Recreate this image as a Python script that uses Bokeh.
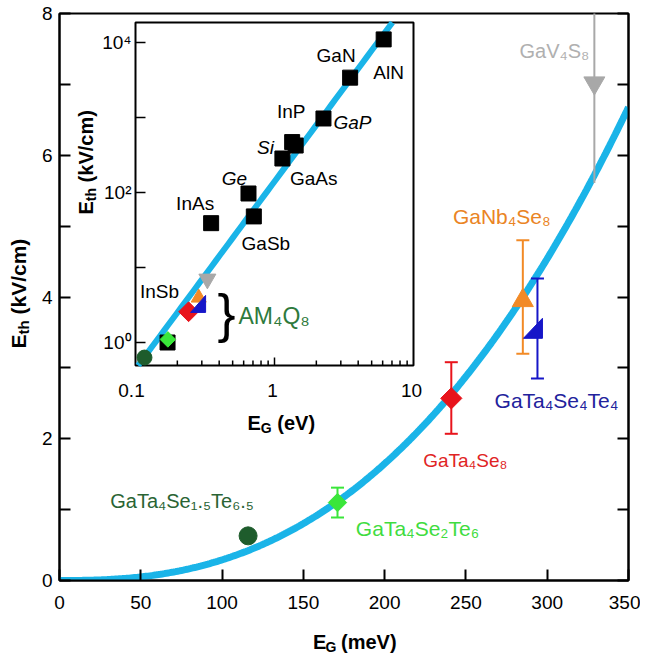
import math
import numpy as np
from bokeh.plotting import figure
from bokeh.layouts import row, column
from bokeh.models import Range1d, LogScale, LinearAxis, Label, FixedTicker, ColumnDataSource
from bokeh.core.properties import value
from bokeh.embed import file_html
from bokeh.resources import INLINE

FONT = "Liberation Sans"

# ---------------- data ----------------
# AM4Q8 compounds (main panel: E_G in meV, E_th in kV/cm)
am_names = ["GaTa₄Se₁.₅Te₆.₅", "GaTa₄Se₂Te₆", "GaTa₄Se₈", "GaNb₄Se₈", "GaTa₄Se₄Te₄", "GaV₄S₈"]
am_gap_meV = [116, 171, 241, 285, 294, 329]
am_eth = [0.63, 1.10, 2.57, 3.95, 3.53, 7.02]
am_eth_low = [float("nan"), 0.89, 2.07, 3.20, 2.85, 5.61]
am_eth_high = [float("nan"), 1.31, 3.08, 4.80, 4.26, 8.60]
am_colors = ["#1e5c2c", "#3ae63a", "#e8141c", "#f28a26", "#1616c8", "#a8a8a8"]
am_text_colors = ["#2a6434", "#3fdc3f", "#e02424", "#ea8424", "#22229c", "#b0b0b0"]

# classic semiconductors (inset: E_G in eV, E_th in kV/cm)
sc_names = ["InSb", "InAs", "Ge", "GaSb", "Si", "InP", "GaAs", "GaP", "GaN", "AlN"]
sc_gap_eV = [0.17, 0.35, 0.65, 0.71, 1.14, 1.34, 1.42, 2.25, 3.5, 6.1]
sc_eth = [1.0, 39, 97, 48, 284, 470, 423, 970, 3400, 11000]
sc_italic = [False, False, True, False, True, False, False, True, False, False]

# power-law fits  E_th = A * E_G^2.5
fit_exp = 2.5
fit_A_main = 2.6 / 240 ** 2.5   # kV/cm per meV^2.5
fit_A_inset = 140.0             # kV/cm per eV^2.5

main_x_ticks = [0, 50, 100, 150, 200, 250, 300, 350]
main_y_ticks = [0, 2, 4, 6, 8]
main_y_minor = [1, 3, 5, 7]
inset_y_ticks = [1, 10, 100, 1000, 10000]

# ---------------- layout (picture pixels) ----------------
YW = 34                      # width of the strip holding the main y label
FL, FT, FW, FH = 59, 13, 569, 567   # main frame in picture pixels
BL = FL - YW
BT = FT
BR = 12
BB = 42
MW = BL + FW + BR
MH = BT + FH + BB
XH = 34
X0, X1, Y0, Y1 = 0, 350, 0, 8


def mx(px):
    return X0 + (px - FL) * (X1 - X0) / FW


def my(py):
    return Y0 + (FT + FH - py) * (Y1 - Y0) / FH


# inset geometry
IL, IR, IT, IB = 135, 413, 22, 365
IX_DEC = (IR - IL) / 2.0
IY_DEC = 75.0
IY0_PX = 342


def ix(px):
    return 10 ** (-1 + (px - IL) / IX_DEC)


def iy(py):
    return 10 ** ((IY0_PX - py) / IY_DEC)


p = figure(width=MW, height=MH, x_range=Range1d(X0, X1), y_range=Range1d(Y0, Y1),
           output_backend="svg", toolbar_location=None,
           min_border_left=BL, min_border_right=BR, min_border_top=BT, min_border_bottom=BB)
p.grid.visible = False
p.outline_line_color = "black"
p.outline_line_width = 2
p.background_fill_color = "white"
p.border_fill_color = "white"

p.extra_x_ranges = {"ix": Range1d(ix(FL), ix(FL + FW))}
p.extra_x_scales = {"ix": LogScale()}
p.extra_y_ranges = {"iy": Range1d(iy(FT + FH), iy(FT))}
p.extra_y_scales = {"iy": LogScale()}

# axes
for ax in p.xaxis:
    ax.ticker = FixedTicker(ticks=main_x_ticks)
    ax.minor_tick_line_color = None
    ax.major_label_standoff = 15
for ax in p.yaxis:
    ax.ticker = FixedTicker(ticks=main_y_ticks, minor_ticks=main_y_minor)
    ax.minor_tick_in = 11
    ax.minor_tick_out = 0
    ax.minor_tick_line_width = 2
    ax.major_label_standoff = 7
for ax in p.axis:
    ax.major_tick_in = 11
    ax.major_tick_out = 0
    ax.axis_line_width = 2
    ax.major_tick_line_width = 2
    ax.major_label_text_font = FONT
    ax.major_label_text_font_size = "19px"
    ax.major_label_text_color = "black"

rax = LinearAxis(ticker=FixedTicker(ticks=list(range(0, 9))))
rax.major_tick_in = 11
rax.major_tick_out = 0
rax.minor_tick_line_color = None
rax.major_tick_line_width = 2
rax.axis_line_width = 2
rax.major_label_overrides = {i: "" for i in range(0, 9)}
rax.major_label_standoff = 0
p.add_layout(rax, "right")

# ---------------- main panel ----------------
xs = np.linspace(0, 350, 300)
p.line(xs, fit_A_main * xs ** fit_exp, line_color="#1ab4e8", line_width=7)

for i in range(len(am_gap_meV)):
    if math.isnan(am_eth_low[i]):
        continue
    p.segment(am_gap_meV[i], am_eth_low[i], am_gap_meV[i], am_eth_high[i],
              line_color=am_colors[i], line_width=2)
    if i != 5:
        p.scatter([am_gap_meV[i]] * 2, [am_eth_low[i], am_eth_high[i]], marker="dash", size=13,
                  line_color=am_colors[i], line_width=2)

# markers
p.scatter([am_gap_meV[0]], [am_eth[0]], marker="circle", size=18, fill_color=am_colors[0], line_color=am_colors[0])
p.scatter([am_gap_meV[1]], [am_eth[1]], marker="square", angle=math.pi / 4, size=13,
          fill_color=am_colors[1], line_color=am_colors[1])
p.scatter([am_gap_meV[2]], [am_eth[2]], marker="square", angle=math.pi / 4, size=15,
          fill_color=am_colors[2], line_color=am_colors[2])
p.scatter([am_gap_meV[3]], [am_eth[3]], marker="triangle", size=21,
          fill_color=am_colors[3], line_color=am_colors[3])
p.scatter([am_gap_meV[5]], [am_eth[5]], marker="inverted_triangle", size=21,
          fill_color=am_colors[5], line_color=am_colors[5])
# half triangle (right-angled) for GaTa4Se4Te4
tri_px = [(-14, 8), (5, 8), (5, -12)]
bx, by = am_gap_meV[4], am_eth[4]
p.patch([bx + dx * (X1 - X0) / FW for dx, dy in tri_px],
        [by - dy * (Y1 - Y0) / FH for dx, dy in tri_px],
        fill_color=am_colors[4], line_color=am_colors[4])

# compound labels
lab_dx = [-66, 80, 14, -21, 19, -40]
lab_dy = [-35, 26, 62, -84, 70, -32]
lab_fs = ["20px", "21px", "19px", "21px", "21px", "20px"]
src_lab = ColumnDataSource(dict(x=am_gap_meV, y=am_eth, t=am_names, c=am_text_colors,
                                dx=lab_dx, dy=lab_dy, fs=lab_fs))
p.text("x", "y", text="t", source=src_lab, x_offset="dx", y_offset="dy",
       text_color="c", text_font=value(FONT), text_font_size="fs",
       text_align="center", text_baseline="middle")

# ---------------- inset ----------------
yb, yt = iy(IB), iy(IT)
p.quad(left=[ix(IL)], right=[ix(IR)], bottom=[yb], top=[yt], fill_color="white",
       line_color="black", line_width=2, x_range_name="ix", y_range_name="iy")

# inset ticks
tx, ty0, ty1 = [], [], []
for dec in [0.1, 1.0]:
    for m in range(2, 10):
        tx.append(m * dec)
        ty0.append(yb)
        ty1.append(yb * 10 ** (5 / IY_DEC))
tx.append(1.0); ty0.append(yb); ty1.append(yb * 10 ** (8 / IY_DEC))
p.segment(tx, ty0, tx, ty1, line_color="black", line_width=1.5, x_range_name="ix", y_range_name="iy")
p.segment([ix(IL)] * len(inset_y_ticks), inset_y_ticks,
          [ix(IL) * 10 ** (10 / IX_DEC)] * len(inset_y_ticks), inset_y_ticks,
          line_color="black", line_width=1.5, x_range_name="ix", y_range_name="iy")

# inset fit line (inside the inset frame)
xlo = max(ix(IL), (yb / fit_A_inset) ** (1 / fit_exp))
xhi = min(ix(IR), (yt / fit_A_inset) ** (1 / fit_exp))
xl = np.logspace(math.log10(xlo), math.log10(xhi), 60)
p.line(xl, fit_A_inset * xl ** fit_exp, line_color="#1ab4e8", line_width=6,
       x_range_name="ix", y_range_name="iy")

# semiconductors
p.scatter(sc_gap_eV, sc_eth, marker="square", size=15, fill_color="black", line_color="black",
          x_range_name="ix", y_range_name="iy")
sc_dx = [-8, -16, -14, 12, -17, -1, 18, 29, -14, 5]
sc_dy = [-51, -20, -15, 27, -11, -31, 33, 4, -22, 33]
src_sc = ColumnDataSource(dict(x=sc_gap_eV, y=sc_eth, t=sc_names, dx=sc_dx, dy=sc_dy,
                               st=["italic" if it else "normal" for it in sc_italic]))
p.text("x", "y", text="t", source=src_sc, x_offset="dx", y_offset="dy", text_font_style="st",
       text_color="black", text_font=value(FONT), text_font_size="19px",
       text_align="center", text_baseline="middle", x_range_name="ix", y_range_name="iy")

# AM4Q8 in inset
am_gap_eV = [g / 1000.0 for g in am_gap_meV]
kw = dict(x_range_name="ix", y_range_name="iy")
p.scatter([am_gap_eV[5]], [am_eth[5]], marker="inverted_triangle", size=17,
          fill_color=am_colors[5], line_color=am_colors[5], **kw)
p.scatter([am_gap_eV[3]], [am_eth[3]], marker="triangle", size=15,
          fill_color=am_colors[3], line_color=am_colors[3], **kw)
p.scatter([am_gap_eV[2]], [am_eth[2]], marker="square", angle=math.pi / 4, size=14,
          fill_color=am_colors[2], line_color=am_colors[2], **kw)
tri_px_i = [(-10, 11), (5, 11), (5, -6)]
bxi, byi = am_gap_eV[4], am_eth[4]
p.patch([bxi * 10 ** (dx / IX_DEC) for dx, dy in tri_px_i],
        [byi * 10 ** (-dy / IY_DEC) for dx, dy in tri_px_i],
        fill_color=am_colors[4], line_color=am_colors[4], **kw)
p.scatter([am_gap_eV[1]], [am_eth[1]], marker="square", angle=math.pi / 4, size=11,
          fill_color=am_colors[1], line_color=am_colors[1], **kw)
p.scatter([am_gap_eV[0]], [am_eth[0]], marker="circle", size=15,
          fill_color=am_colors[0], line_color=am_colors[0], **kw)


# ---------------- free texts inside the main frame ----------------
def lab(px, py, text, size, color="black", weight="normal", style="normal",
        align="left", baseline="middle", angle=0.0):
    fs = "bold" if weight == "bold" else style
    p.add_layout(Label(x=mx(px), y=my(py), text=text, text_font=FONT, text_font_size=f"{size}px",
                       text_color=color, text_font_style=fs, text_align=align,
                       text_baseline=baseline, angle=angle))


lab(226, 312, "}", 54, align="center")
lab(238, 315, "AM₄Q₈", 23, color="#2e7a3c")

for py, t in [(342, "10⁰"), (192, "10²"), (42, "10⁴")]:
    lab(131, py, t, 19, align="right")
for px, t in [(131, "0.1"), (272, "1"), (411, "10")]:
    lab(px, 390, t, 19, align="center")

# inset axis labels (E_G (eV) and E_th (kV/cm))
x0 = 247
lab(x0, 422, "E", 20, weight="bold")
lab(x0 + 13.3, 427, "G", 14, weight="bold")
lab(x0 + 13.3 + 10.9 + 5.6, 422, "(eV)", 20, weight="bold")
y0 = 214
lab(85, y0, "E", 20, weight="bold", angle=math.pi / 2)
lab(90, y0 - 13.3, "th", 14, weight="bold", angle=math.pi / 2)
lab(85, y0 - 13.3 - 13.2 - 5.6, "(kV/cm)", 20, weight="bold", angle=math.pi / 2)


# ---------------- main axis titles in their own strips ----------------
def strip(w, h, xr, yr):
    f = figure(width=w, height=h, x_range=Range1d(*xr), y_range=Range1d(*yr),
               output_backend="svg", toolbar_location=None,
               x_axis_location=None, y_axis_location=None,
               min_border_left=0, min_border_right=0, min_border_top=0, min_border_bottom=0)
    f.grid.visible = False
    f.outline_line_color = None
    f.background_fill_color = "white"
    f.border_fill_color = "white"
    return f


xs_fig = strip(MW, XH, (YW, YW + MW), (MH + XH, MH))
ys_fig = strip(YW, MH + XH, (0, YW), (MH + XH, 0))


def stext(f, px, py, text, size, angle=0.0):
    f.text([px], [py], text=[text], angle=angle, text_font=value(FONT),
           text_font_size=f"{size}px", text_font_style="bold", text_color="black",
           text_align="left", text_baseline="middle")


x0 = 304
stext(xs_fig, x0, 641, "E", 20)
stext(xs_fig, x0 + 13.3, 646, "G", 14)
stext(xs_fig, x0 + 13.3 + 10.9 + 5.6, 641, "(meV)", 20)
y0 = 348
stext(ys_fig, 18, y0, "E", 21, angle=math.pi / 2)
stext(ys_fig, 23, y0 - 14, "th", 15, angle=math.pi / 2)
stext(ys_fig, 18, y0 - 14 - 14.2 - 5.8, "(kV/cm)", 21, angle=math.pi / 2)

layout = row(ys_fig, column(p, xs_fig))
open("out.html", "w").write(file_html(layout, INLINE))
